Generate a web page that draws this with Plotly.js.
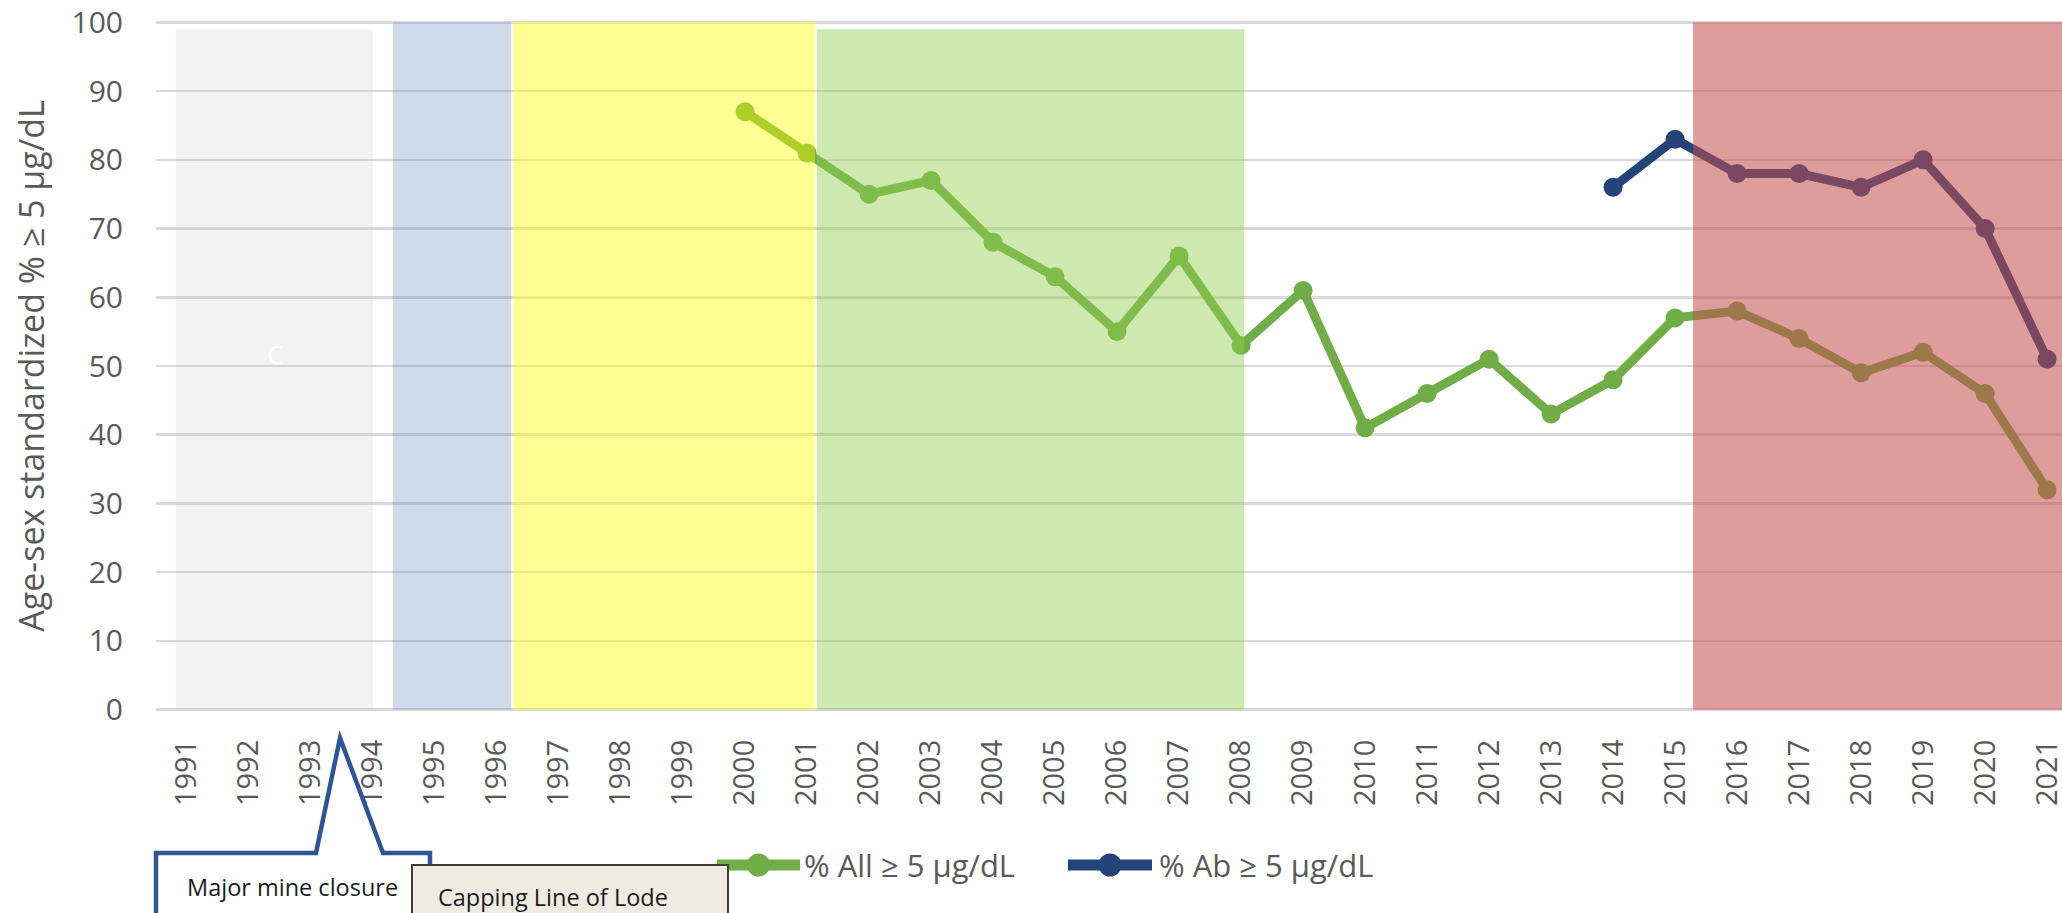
<!DOCTYPE html>
<html>
<head>
<meta charset="utf-8">
<script src="https://cdn.plot.ly/plotly-3.0.1.min.js"></script>
<style>html,body{margin:0;padding:0;background:#fff;overflow:hidden}</style>
</head>
<body>
<div id="chart" style="width:2062px;height:913px"></div>
<script>
// ---- data ----
const years = [1991,1992,1993,1994,1995,1996,1997,1998,1999,2000,2001,2002,2003,2004,2005,2006,2007,2008,2009,2010,2011,2012,2013,2014,2015,2016,2017,2018,2019,2020,2021];
const tickLabels = years.map(String);
const allYears = [2000,2001,2002,2003,2004,2005,2006,2007,2008,2009,2010,2011,2012,2013,2014,2015,2016,2017,2018,2019,2020,2021];
const allValues = [87,81,75,77,68,63,55,66,53,61,41,46,51,43,48,57,58,54,49,52,46,32];
const abYears = [2014,2015,2016,2017,2018,2019,2020,2021];
const abValues = [76,83,78,78,76,80,70,51];
const seriesNames = ['% All \u2265 5 \u00b5g/dL', '% Ab \u2265 5 \u00b5g/dL'];
const seriesColors = ['#70ad47', '#244479'];
// shaded periods (in year units)
const bandStart = [1990.82, 1994.32, 1996.26, 2001.16, 2015.29];
const bandEnd   = [1994.00, 1996.23, 2001.13, 2008.05, 2022.0];
const bandTop   = [99, 100, 100, 99, 100];
const bandColor = ['rgba(191,191,191,0.2)','rgba(91,130,190,0.29)','rgba(255,255,0,0.42)','rgba(146,208,80,0.46)','rgba(193,76,76,0.55)'];

// ---- layout helpers (pixel -> paper) ----
const W = 2062, H = 913, ML = 156, MR = 0, MT = 21, MB = 202;
const PW = W - ML - MR, PH = H - MT - MB;
const X = px => (px - ML) / PW;
const Y = py => (H - MB - py) / PH;

const font = '"Open Sans", "Noto Sans", sans-serif';
const grey = '#595959';

const traces = [
  {
    x: allYears, y: allValues, name: seriesNames[0], type: 'scatter', mode: 'lines+markers',
    line: {color: seriesColors[0], width: 9}, marker: {color: seriesColors[0], size: 19}
  },
  {
    x: abYears, y: abValues, name: seriesNames[1], type: 'scatter', mode: 'lines+markers',
    line: {color: seriesColors[1], width: 9}, marker: {color: seriesColors[1], size: 19}
  }
];

const shapes = bandStart.map((s, i) => ({
  type: 'rect', xref: 'x', yref: 'y', x0: s, x1: bandEnd[i], y0: 0, y1: bandTop[i],
  fillcolor: bandColor[i], line: {width: 0}, layer: 'above'
}));

// callout "Major mine closure"
const calloutPath = 'M' + X(156) + ',' + Y(930) +
  ' L' + X(156) + ',' + Y(853) +
  ' L' + X(316) + ',' + Y(853) +
  ' L' + X(340) + ',' + Y(738) +
  ' L' + X(383) + ',' + Y(853) +
  ' L' + X(430) + ',' + Y(853) +
  ' L' + X(430) + ',' + Y(930) + ' Z';
shapes.push({type: 'path', xref: 'paper', yref: 'paper', path: calloutPath,
  fillcolor: '#ffffff', line: {color: '#2f5597', width: 4.5}, layer: 'above'});

// legend (line + marker swatch, then label)
const legendItems = [{x0: 717, x1: 800, tx: 802}, {x0: 1068, x1: 1152, tx: 1157}];
const legendY = 865, swR = 11.5;
const annotations = [];
legendItems.forEach((it, i) => {
  shapes.push({type: 'line', xref: 'paper', yref: 'paper', x0: X(it.x0), x1: X(it.x1), y0: Y(legendY), y1: Y(legendY),
    line: {color: seriesColors[i], width: 11}, layer: 'above'});
  const cx = (it.x0 + it.x1) / 2;
  shapes.push({type: 'circle', xref: 'paper', yref: 'paper', x0: X(cx - swR), x1: X(cx + swR), y0: Y(legendY + swR), y1: Y(legendY - swR),
    fillcolor: seriesColors[i], line: {width: 0}, layer: 'above'});
  annotations.push({xref: 'paper', yref: 'paper', x: X(it.tx), y: Y(legendY), xanchor: 'left', yanchor: 'middle',
    text: seriesNames[i], showarrow: false, font: {family: font, size: 31, color: grey}});
});

annotations.push(
  {xref: 'x', yref: 'y', x: 1992.42, y: 51.7, text: 'C', showarrow: false,
   font: {family: font, size: 26, color: '#ffffff'}},
  {xref: 'paper', yref: 'paper', x: X(292), y: Y(887), xanchor: 'center', yanchor: 'middle',
   text: 'Major mine closure', showarrow: false, font: {family: font, size: 23.5, color: '#1a1a1a'}},
  {xref: 'paper', yref: 'paper', x: X(411), y: Y(864), xanchor: 'left', yanchor: 'top',
   text: '\u00a0', showarrow: false, width: 314, height: 70, bgcolor: '#eeece1',
   bordercolor: '#3c3c3c', borderwidth: 2, borderpad: 0, font: {family: font, size: 23}},
  {xref: 'paper', yref: 'paper', x: X(436), y: Y(897), xanchor: 'left', yanchor: 'middle',
   text: 'Capping Line of Lode', showarrow: false, font: {family: font, size: 23.5, color: '#1a1a1a'}}
);

const layout = {
  width: W, height: H,
  margin: {l: ML, r: MR, t: MT, b: MB, autoexpand: false},
  paper_bgcolor: '#ffffff', plot_bgcolor: '#ffffff',
  font: {family: font, color: grey},
  showlegend: false,
  xaxis: {
    type: 'linear', range: [1990.5, 2021.24], tickmode: 'array', tickvals: years, ticktext: tickLabels,
    tickangle: -90, showgrid: false, zeroline: false, showline: false, ticks: '',
    ticklabelstandoff: 22, ticklabeloverflow: 'allow',
    tickfont: {family: font, size: 29, color: grey}, automargin: false, fixedrange: true
  },
  yaxis: {
    range: [-0.2, 100.2], tickmode: 'array', tickvals: [0,10,20,30,40,50,60,70,80,90,100],
    showgrid: true, gridcolor: '#d9d9d9', gridwidth: 2.5, zeroline: false, showline: false, ticks: '',
    ticklabelstandoff: 32, tickfont: {family: font, size: 30, color: grey}, automargin: false,
    title: {text: 'Age-sex standardized % \u2265 5 \u00b5g/dL', font: {family: font, size: 34, color: grey}, standoff: 16},
    fixedrange: true
  },
  shapes: shapes,
  annotations: annotations
};

Plotly.newPlot('chart', traces, layout, {displayModeBar: false, staticPlot: true});
</script>
</body>
</html>
